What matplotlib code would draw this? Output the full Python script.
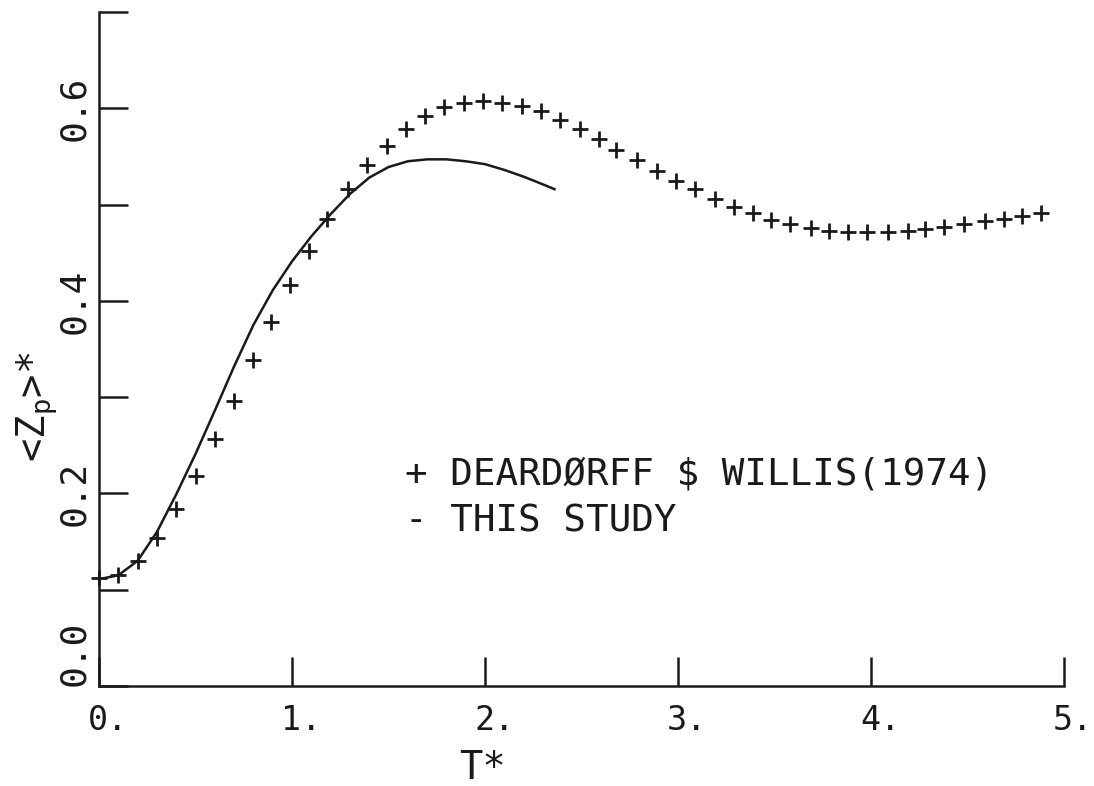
import matplotlib
matplotlib.use("Agg")
import matplotlib.pyplot as plt
from matplotlib.transforms import ScaledTranslation

plt.rcParams['font.family'] = ['DejaVu Sans Mono']
plt.rcParams['mathtext.fontset'] = 'custom'
plt.rcParams['mathtext.rm'] = 'DejaVu Sans Mono'
plt.rcParams['mathtext.it'] = 'DejaVu Sans Mono'
plt.rcParams['mathtext.default'] = 'regular'

INK = '#1a1a1a'

# Deardorff & Willis (1974) measurements
dw_t = [0.00, 0.10, 0.20, 0.30, 0.40, 0.50, 0.60, 0.70, 0.80, 0.89,
        0.99, 1.09, 1.18, 1.29, 1.39, 1.49, 1.59, 1.69, 1.79, 1.89,
        1.99, 2.09, 2.19, 2.29, 2.39, 2.49, 2.59, 2.68, 2.79, 2.89,
        2.99, 3.09, 3.19, 3.29, 3.39, 3.48, 3.58, 3.69, 3.78, 3.88,
        3.98, 4.09, 4.19, 4.28, 4.38, 4.48, 4.59, 4.69, 4.78, 4.88]
dw_z = [0.112, 0.115, 0.130, 0.154, 0.184, 0.218, 0.257, 0.296, 0.339, 0.378,
        0.416, 0.452, 0.485, 0.516, 0.541, 0.561, 0.579, 0.592, 0.601, 0.606,
        0.608, 0.606, 0.602, 0.597, 0.588, 0.578, 0.568, 0.557, 0.546, 0.535,
        0.524, 0.516, 0.506, 0.498, 0.491, 0.484, 0.480, 0.476, 0.473, 0.472,
        0.472, 0.472, 0.473, 0.475, 0.477, 0.480, 0.483, 0.485, 0.488, 0.491]

# this study
model_t = [0.0, 0.1, 0.2, 0.3, 0.4, 0.5, 0.6, 0.7, 0.8, 0.9, 1.0, 1.1, 1.2,
           1.3, 1.4, 1.5, 1.6, 1.7, 1.8, 1.9, 2.0, 2.1, 2.2, 2.3, 2.36]
model_z = [0.111, 0.115, 0.130, 0.160, 0.199, 0.241, 0.286, 0.332, 0.375,
           0.411, 0.441, 0.467, 0.490, 0.511, 0.528, 0.539, 0.545, 0.547,
           0.547, 0.545, 0.542, 0.536, 0.529, 0.521, 0.516]

x_ticks = [0, 1, 2, 3, 4, 5]
x_labels = ['0.', '1.', '2.', '3.', '4.', '5.']
y_ticks = [0.0, 0.1, 0.2, 0.3, 0.4, 0.5, 0.6, 0.7]
y_labels = ['0.0', '', '0.2', '', '0.4', '', '0.6', '']

fig = plt.figure(figsize=(10.94, 7.86), dpi=100)
ax = fig.add_axes([0.0905, 0.1272, 0.8821, 0.8575])

ax.plot(dw_t, dw_z, linestyle='none', marker='+', markersize=12,
        markeredgewidth=2.0, color=INK, clip_on=False)
ax.plot(model_t, model_z, color=INK, linewidth=1.8, clip_on=False)

ax.set_xlim(0, 5)
ax.set_ylim(0, 0.7)

for side in ['top', 'right']:
    ax.spines[side].set_visible(False)
for side in ['left', 'bottom']:
    ax.spines[side].set_linewidth(1.8)
    ax.spines[side].set_color(INK)

ax.set_xticks(x_ticks)
ax.set_xticklabels(x_labels, fontsize=24, color=INK)
ax.set_yticks(y_ticks)
ax.set_yticklabels(y_labels, fontsize=26, color=INK, rotation=90, va='center')
ax.tick_params(axis='x', direction='in', length=21, width=1.8, pad=13, color=INK)
ax.tick_params(axis='y', direction='in', length=21, width=1.8, pad=6, color=INK)

# first digit of each x label sits on its tick
shift = ScaledTranslation(-0.33 * 24 / 72, 0, fig.dpi_scale_trans)
for lab in ax.get_xticklabels():
    lab.set_ha('left')
    lab.set_transform(lab.get_transform() + shift)
ax.get_yticklabels()[0].set_va('bottom')

fig.text(0.441, 0.023, 'T*', fontsize=28, color=INK, ha='center', va='center')
fig.text(0.034, 0.482, '<Z$_p$>*', fontsize=28, color=INK, rotation=90,
         ha='center', va='center')

ax.text(1.587, 0.209, '+ DEARDØRFF $ WILLIS(1974)', fontsize=27, color=INK,
        va='baseline')
ax.text(1.587, 0.160, '- THIS STUDY', fontsize=27, color=INK, va='baseline')

fig.savefig('out.png', dpi=100)
